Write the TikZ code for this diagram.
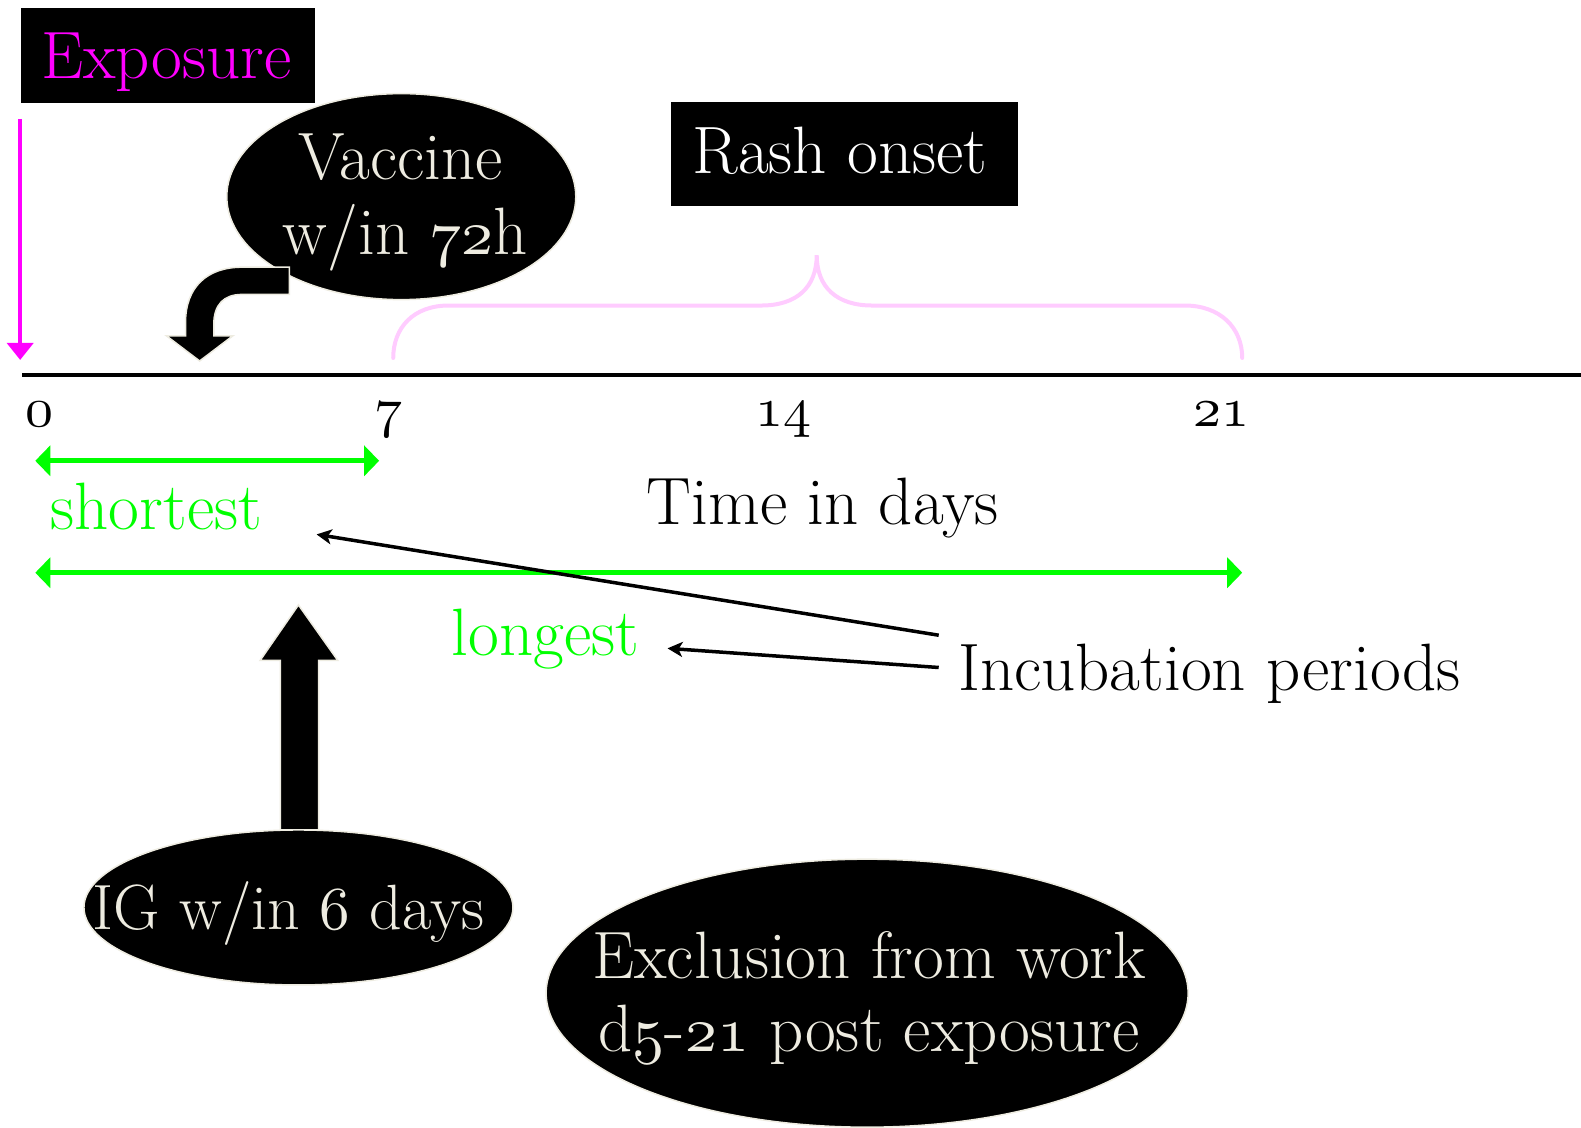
\documentclass[tikz,border=0pt]{standalone}
\usetikzlibrary{shapes.geometric,arrows.meta}
\definecolor{cream}{RGB}{238,236,225}
\definecolor{mag}{RGB}{255,0,255}
\definecolor{grn}{RGB}{0,255,0}
\definecolor{pinkb}{RGB}{255,204,255}
\newcommand{\bigfont}{\fontsize{67}{80}\selectfont}
\newcommand{\igfont}{\fontsize{64}{76}\selectfont}
\font\osnbig=cmmi10 at 64pt
\font\osnig=cmmi10 at 61pt
\font\osnnum=cmmi10 at 56pt
\newcommand{\osn}[1]{{\osnbig #1}}
\newcommand{\osnl}[1]{{\osnnum #1}}
\begin{document}
\begin{tikzpicture}[x=1.0083pt,y=-1.0083pt,
  lbl/.style={font=\bigfont, inner sep=0pt, anchor=base},
  numlbl/.style={inner sep=0pt, anchor=base},
  blk/.style={fill=black, draw=cream, line width=1.5pt},
  greenarr/.style={grn, line width=5pt, {Triangle[length=15pt,width=30pt]}-{Triangle[length=15pt,width=30pt]}},
  thinarr/.style={black, line width=3.5pt, -{Stealth[length=15pt,width=15pt,inset=4pt]}}]
\useasboundingbox (0,0) rectangle (1568,1118);
\fill[white] (0,0) rectangle (1568,1118);

% Exposure
\node[fill=black, minimum width=294pt, minimum height=95pt, inner sep=0pt] (expbox) at (167,55) {};
\node[lbl, text=mag] (exptxt) at (165,78) {Exposure};
\coordinate (m0) at (20,118);
\coordinate (m1) at (20,357);
\draw[mag, line width=4pt, -{Triangle[length=17pt,width=26pt]}] (m0) -- (m1);

% Vaccine
\node[ellipse, blk, minimum width=349pt, minimum height=206pt, inner sep=0pt] (vac) at (398,195) {};
\node[lbl, text=cream] (vac1) at (397,178) {Vaccine};
\node[lbl, text=cream] (vac2) at (402,252) {w/in \osn{72}h};
\draw[blk] (287,265) -- (240,265) .. controls (205,265) and (184,285) .. (184,320)
  -- (184,333) -- (165,333) -- (198,358) -- (231,333) -- (212,333) -- (212,322)
  .. controls (212,302) and (222,292) .. (240,292) -- (287,292) -- cycle;

% Rash onset
\node[fill=black, minimum width=347pt, minimum height=104pt, inner sep=0pt] (rashbox) at (838,153) {};
\node[lbl, text=white] (rashtxt) at (833,172) {Rash onset};

% brace
\coordinate (b0) at (390,355);
\coordinate (bm) at (810,253);
\coordinate (b1) at (1232,355);
\draw[pinkb, line width=4pt, line cap=round]
  (b0) .. controls (390,325) and (410,303) .. (445,303) -- (755,303)
  .. controls (790,303) and (810,285) .. (bm)
  .. controls (810,285) and (830,303) .. (865,303) -- (1175,303)
  .. controls (1210,303) and (1232,325) .. (b1);

% axis
\coordinate (ax0) at (22,372);
\coordinate (ax1) at (1568,372);
\draw[line width=4pt] (ax0) -- (ax1);
\node[numlbl] (n0) at (39,423) {\osnl{0}};
\node[numlbl] (n7) at (385,423) {\osnl{7}};
\node[numlbl] (n14) at (777,423) {\osnl{14}};
\node[numlbl] (n21) at (1211,423) {\osnl{21}};

% incubation arrows
\coordinate (s0) at (35,457);
\coordinate (s1) at (376,457);
\draw[greenarr] (s0) -- (s1);
\node[lbl, text=grn] (short) at (155,525) {shortest};
\node[lbl] (time) at (816,520) {Time in days};
\coordinate (l0) at (35,568);
\coordinate (l1) at (1232,568);
\draw[greenarr] (l0) -- (l1);
\node[lbl, text=grn] (long) at (541,650) {longest};
\node[lbl, anchor=base west] (inc) at (950,685) {Incubation periods};
\coordinate (i1) at (931,630);
\coordinate (i1t) at (314,530);
\coordinate (i2) at (931,662);
\coordinate (i2t) at (662,643);
\draw[thinarr] (i1) -- (i1t);
\draw[thinarr] (i2) -- (i2t);

% IG
\draw[blk] (278,823) -- (278,655) -- (258,655) -- (296,600) -- (335,655) -- (316,655) -- (316,823) -- cycle;
\node[ellipse, blk, minimum width=429pt, minimum height=155pt, inner sep=0pt] (ig) at (296,900) {};
\node[lbl, font=\igfont, text=cream] (igtxt) at (286,922) {IG w/in {\osnig 6} days};

% Exclusion
\node[ellipse, blk, minimum width=642pt, minimum height=268pt, inner sep=0pt] (excl) at (860,985) {};
\node[lbl, text=cream] (ex1) at (862,970) {Exclusion from work};
\node[lbl, text=cream] (ex2) at (862,1043) {d\osn{5}-\osn{21} post exposure};
\end{tikzpicture}
\end{document}
